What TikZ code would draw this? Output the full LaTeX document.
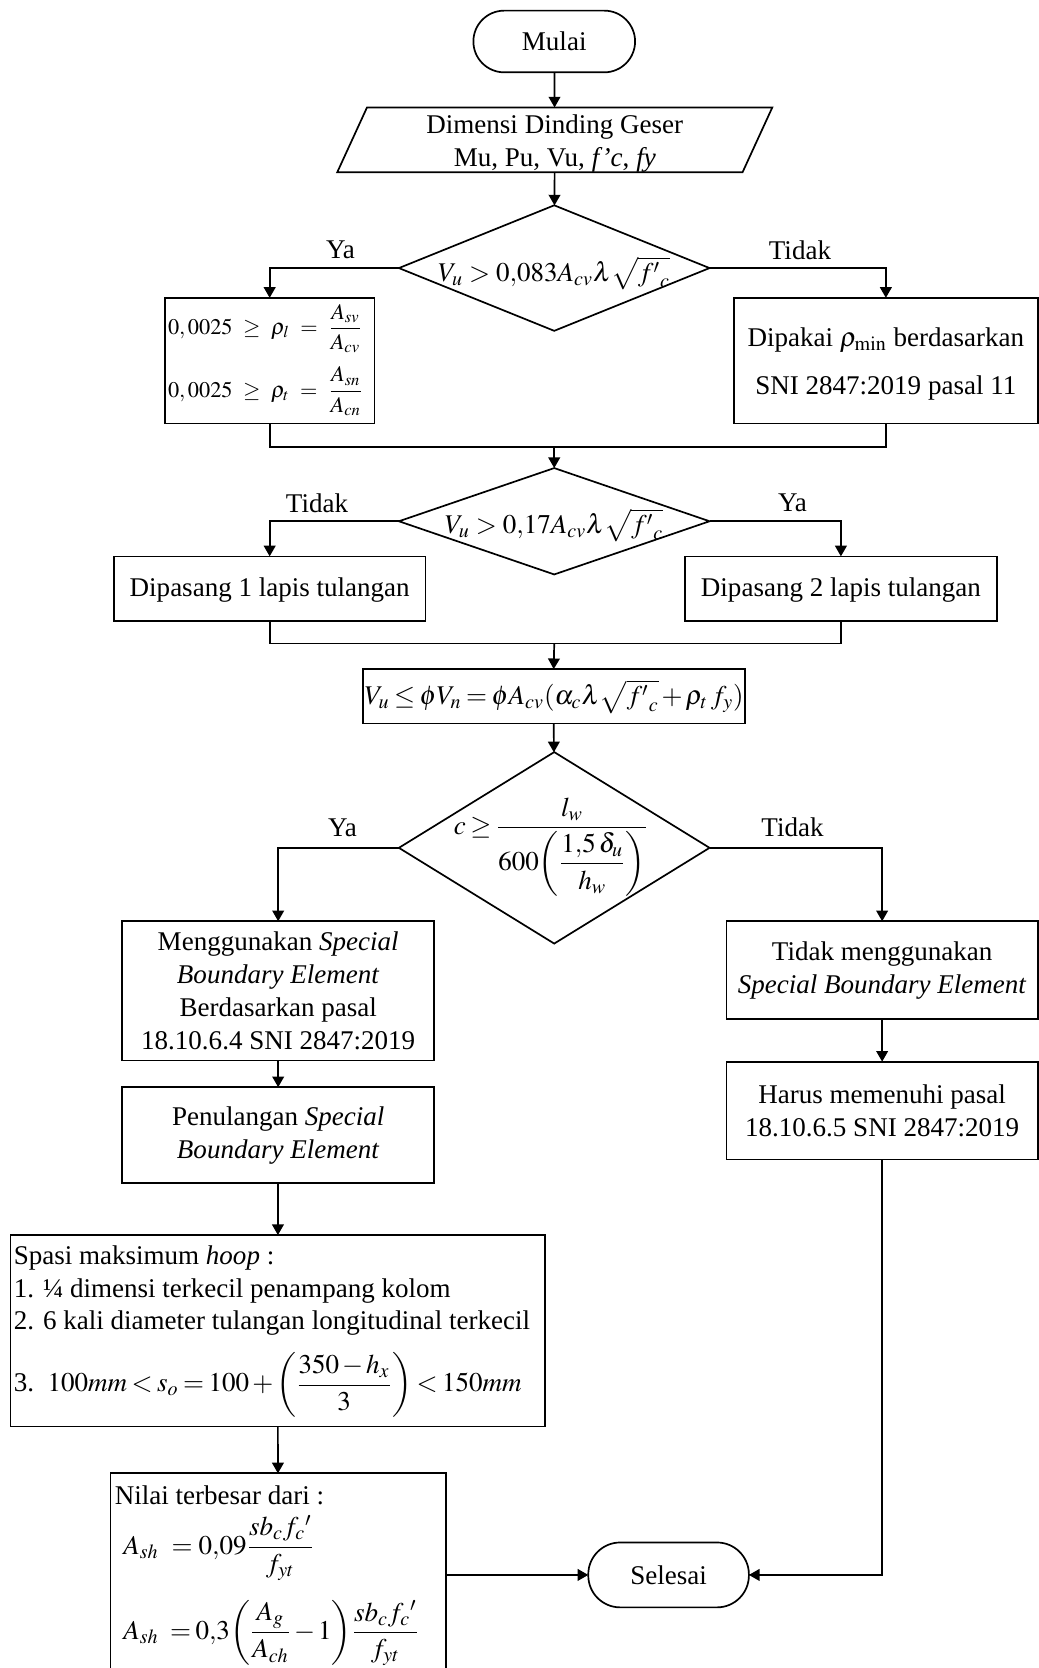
\documentclass[tikz,border=0pt]{standalone}
\usepackage{amsmath}
\usepackage{mathptmx}
\usepackage{fontspec}
\setmainfont{Liberation Serif}
\usetikzlibrary{shapes.geometric,arrows.meta,calc}
\newcommand{\tightmath}{\thickmuskip=3mu plus 1mu\medmuskip=2mu plus 1mu}
\begin{document}
\begin{tikzpicture}[x=0.5pt,y=-0.5pt, line width=0.8pt,
  every node/.style={font=\fontsize{12.7}{15.5}\selectfont, inner sep=0pt, outer sep=0pt},
  box/.style={draw, rectangle, align=center},
  term/.style={draw, rectangle, rounded corners=14.5pt, align=center},
  dec/.style={draw, diamond},
  arr/.style={-{Triangle[length=5pt,width=5.5pt]}}
]
\useasboundingbox (0,0) rectangle (976,1568);

% start
\node[term, minimum width=76pt, minimum height=29pt] (start) at (521,39) {Mulai};

% input parallelogram
\node[minimum width=190.5pt, minimum height=30.5pt] (io) at (521.5,131.5) {};
\node[align=center] (iot) at (521.5,134.5)
  {Dimensi Dinding Geser\\Mu, Pu, Vu, \textit{f’c}, \textit{fy}};
\draw ([xshift=7pt]io.north west) -- ([xshift=7pt]io.north east)
   -- ([xshift=-7pt]io.south east) -- ([xshift=-7pt]io.south west) -- cycle;

% decision 1
\node[dec, minimum width=146pt, minimum height=59pt] (d1) at (521,252) {};
\node (d1t) at (521,257) {$V_u > 0{,}083A_{cv}\lambda\sqrt{{f'}_{c}}$};
\node (ya1) at (320,235) {Ya};
\node (tk1) at (752,235) {Tidak};

\node[box, minimum width=98.5pt, minimum height=59pt] (lb) at (253.5,339) {};
\node[anchor=west, font=\fontsize{10.5}{13}\selectfont] (lb1) at (158,309)
  {$0,0025\ \ge\ \rho_l\ =\ \dfrac{A_{sv}}{A_{cv}}$};
\node[anchor=west, font=\fontsize{10.5}{13}\selectfont] (lb2) at (158,368)
  {$0,0025\ \ge\ \rho_t\ =\ \dfrac{A_{sn}}{A_{cn}}$};

\node[box, minimum width=142.75pt, minimum height=59pt] (rb) at (832.75,339) {};
\node[align=center] (rbt) at (832.75,342)
  {Dipakai $\rho_{\min}$ berdasarkan\\[7pt]SNI 2847:2019 pasal 11};

\draw[arr] (d1.west) -| (lb.north);
\draw[arr] (d1.east) -| (rb.north);
\draw[arr] (start) -- (io);
\draw[arr] (io) -- (d1);

\coordinate (m1) at (521,420);
\draw (lb.south) |- (m1);
\draw (rb.south) |- (m1);

% decision 2
\node[dec, minimum width=146pt, minimum height=50pt] (d2) at (521,490) {};
\node (d2t) at (521,494) {$V_u > 0{,}17A_{cv}\lambda\sqrt{{f'}_{c}}$};
\node (tk2) at (298,473) {Tidak};
\node (ya2) at (745,473) {Ya};
\draw[arr] (m1) -- (d2.north);

\node[box, minimum width=146.5pt, minimum height=30.5pt] (b1) at (253.5,553.5) {};
\node (b1t) at (253.5,555) {Dipasang 1 lapis tulangan};
\node[box, minimum width=146.5pt, minimum height=30.5pt] (b2) at (790.5,553.5) {};
\node (b2t) at (790.5,555) {Dipasang 2 lapis tulangan};
\draw[arr] (d2.west) -| (b1.north);
\draw[arr] (d2.east) -| (b2.north);

\coordinate (m2) at (521,605);
\draw (b1.south) |- (m2);
\draw (b2.south) |- (m2);

\node[box, minimum width=179.5pt, minimum height=25.5pt] (fb) at (520.5,654.5) {};
\node (fbt) at (521,655)
  {$\tightmath V_u \le \phi V_n = \phi A_{cv}(\alpha_c\lambda\sqrt{{f'}_{c}} + \rho_t\, f_y)$};
\draw[arr] (m2) -- (fb.north);

% decision 3
\node[dec, minimum width=146pt, minimum height=90pt] (d3) at (521,797) {};
\node (d3t) at (518,796) {$\tightmath c \ge \dfrac{l_w}{600{\left(\dfrac{1{,}5\,\delta_u}{h_w}\right)}}$};
\node (ya3) at (322,778) {Ya};
\node (tk3) at (745,778) {Tidak};
\draw[arr] (fb) -- (d3);

\node[box, minimum width=146.5pt, minimum height=65.5pt] (mb) at (261.5,931.5)
  {Menggunakan \textit{Special}\\\textit{Boundary Element}\\Berdasarkan pasal\\18.10.6.4 SNI 2847:2019};
\node[box, minimum width=146.25pt, minimum height=46pt] (tm) at (829.25,912)
  {Tidak menggunakan\\\textit{Special Boundary Element}};
\draw[arr] (d3.west) -| (mb.north);
\draw[arr] (d3.east) -| (tm.north);

\node[box, minimum width=146.25pt, minimum height=46pt] (hr) at (829.25,1044)
  {Harus memenuhi pasal\\18.10.6.5 SNI 2847:2019};
\draw[arr] (tm) -- (hr);

\node[box, minimum width=146.5pt, minimum height=45pt] (pb) at (261.5,1067)
  {Penulangan \textit{Special}\\\textit{Boundary Element}};
\draw[arr] (mb) -- (pb);

\node[box, minimum width=251pt, minimum height=90pt] (sp) at (261,1251) {};
\node[anchor=base west] (s1) at (13,1189) {Spasi maksimum \textit{hoop} :};
\node[anchor=base west] (s2) at (13,1220) {1. ¼ dimensi terkecil penampang kolom};
\node[anchor=base west] (s3) at (13,1250) {2. 6 kali diameter tulangan longitudinal terkecil};
\node[anchor=west] (s4) at (13,1302) {3.\ \ $\tightmath 100mm < s_o = 100 + {\left(\dfrac{350 - h_x}{3}\right)} < 150mm$};
\draw[arr] (pb) -- (sp);

\node[box, minimum width=157.5pt, minimum height=93pt] (nl) at (261.5,1478) {};
\node[anchor=base west] (n1) at (108,1414) {Nilai terbesar dari :};
\node[anchor=base west] (n2) at (116,1461) {$A_{sh}\ = 0{,}09\dfrac{sb_cf_c{}'}{f_{yt}}$};
\node[anchor=base west] (n3) at (116,1541) {$\tightmath A_{sh}\ = 0{,}3{\left(\dfrac{A_g}{A_{ch}}-1\right)}\dfrac{sb_cf_c{}'}{f_{yt}}$};
\draw[arr] (sp) -- (nl);

\node[term, minimum width=75.5pt, minimum height=30.5pt, rounded corners=15pt] (end) at (628.5,1480.5) {Selesai};
\draw[arr] (nl.east |- end.west) -- (end.west);
\draw[arr] (hr.south) |- (end.east);
\end{tikzpicture}
\end{document}
